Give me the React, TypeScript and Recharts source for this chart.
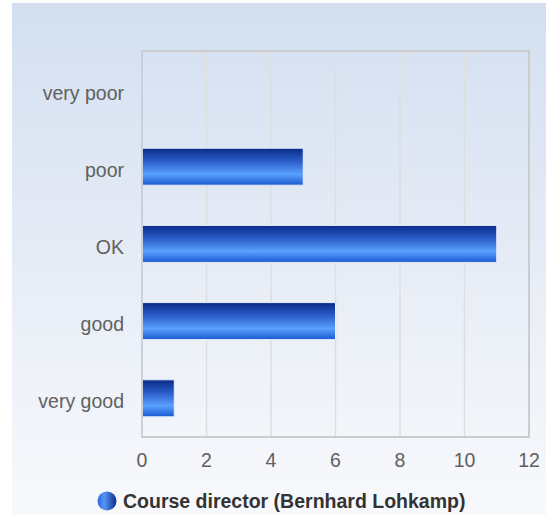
import React from "react";
import { BarChart, Bar, XAxis, YAxis, CartesianGrid, Legend, ReferenceArea } from "recharts";

const categories = ["very poor", "poor", "OK", "good", "very good"];
const counts = [0, 5, 11, 6, 1];
const xTicks = [0, 2, 4, 6, 8, 10, 12];
const seriesName = "Course director (Bernhard Lohkamp)";

const data = categories.map((c, i) => ({ category: c, value: counts[i] }));

const FONT = '"Liberation Sans", Arial, sans-serif';
const FS = 19.5;

const LegendContent = () => (
  <div style={{ display: "flex", alignItems: "center", fontFamily: FONT, height: 22 }}>
    <svg width={20} height={20} style={{ marginRight: 6, flex: "none" }}>
      <defs>
        <linearGradient id="legGrad" x1="0" y1="0" x2="1" y2="0">
          <stop offset="0%" stopColor="#2a66d8" />
          <stop offset="35%" stopColor="#5596f8" />
          <stop offset="100%" stopColor="#0a2a88" />
        </linearGradient>
      </defs>
      <circle cx={10} cy={10} r={9.5} fill="url(#legGrad)" />
    </svg>
    <span style={{ fontSize: FS, fontWeight: "bold", color: "#333", whiteSpace: "nowrap" }}>{seriesName}</span>
  </div>
);

export default function App() {
  return (
    <div style={{ position: "absolute", left: 0, top: 0, width: 546, height: 515 }}>
      <div
        style={{
          position: "absolute",
          left: 12,
          top: 3,
          width: 534,
          height: 512,
          background: "linear-gradient(to bottom, #d3dff0 0%, #e6ecf6 50%, #f8f9fc 100%)",
        }}
      />
      <div style={{ position: "absolute", left: 0, top: 0 }}>
        <BarChart
          width={546}
          height={515}
          data={data}
          layout="vertical"
          margin={{ top: 51, right: 17, bottom: 48, left: 0 }}
        >
          <defs>
            <linearGradient id="barGrad" x1="0" y1="0" x2="0" y2="1">
              <stop offset="0%" stopColor="#0a2a88" />
              <stop offset="35%" stopColor="#2a5cc8" />
              <stop offset="70%" stopColor="#5aa0ff" />
              <stop offset="100%" stopColor="#1a5ad0" />
            </linearGradient>
          </defs>
          <CartesianGrid horizontal={false} stroke="#dedede" strokeWidth={1.5} />
          <ReferenceArea x1={0} x2={12} stroke="#cccccc" strokeWidth={2} fill="none" fillOpacity={0} ifOverflow="visible" />
          <XAxis
            type="number"
            domain={[0, 12]}
            ticks={xTicks}
            tickLine={false}
            tickSize={0}
            tickMargin={16}
            axisLine={{ stroke: "#cccccc", strokeWidth: 2 }}
            height={30}
            tick={{ fill: "#606060", fontSize: FS, fontFamily: FONT }}
            interval={0}
          />
          <YAxis
            type="category"
            dataKey="category"
            width={142}
            tickLine={false}
            tickSize={0}
            tickMargin={18}
            axisLine={{ stroke: "#c8d0e0", strokeWidth: 2 }}
            tick={{ fill: "#606060", fontSize: FS, fontFamily: FONT, dy: 3 }}
            interval={0}
          />
          <Legend
            layout="vertical"
            verticalAlign="middle"
            align="center"
            content={<LegendContent />}
            wrapperStyle={{ position: "absolute", top: 490, left: 97, width: 420, height: 22, right: "auto", bottom: "auto" }}
          />
          <Bar
            dataKey="value"
            name={seriesName}
            barSize={37}
            fill="url(#barGrad)"
            stroke="#e8eefa"
            strokeWidth={1}
            isAnimationActive={false}
          />
        </BarChart>
      </div>
    </div>
  );
}
